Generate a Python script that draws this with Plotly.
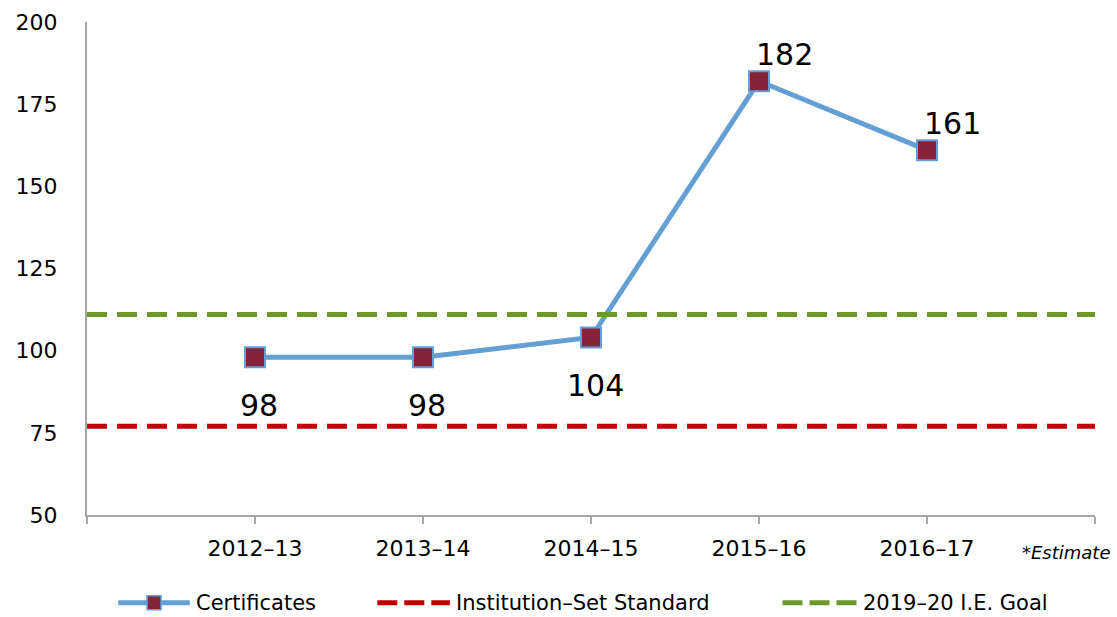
import plotly.graph_objects as go

# --- data ---
years = ["2012–13", "2013–14", "2014–15", "2015–16", "2016–17"]
certificates = [98, 98, 104, 182, 161]
institution_standard = 77
ie_goal = 111
y_ticks = [50, 75, 100, 125, 150, 175, 200]
series_names = ["Certificates", "Institution–Set Standard", "2019–20 I.E. Goal"]

font_family = "DejaVu Sans"
blue, maroon, red, green = "#649FD3", "#862339", "#C00000", "#6B9A2B"
x_pos = list(range(len(years)))
x_span = [-1, len(years)]

fig = go.Figure()

fig.add_trace(go.Scatter(
    x=x_pos, y=certificates, name=series_names[0],
    mode="lines+markers",
    line=dict(color=blue, width=5),
    marker=dict(symbol="square", size=20, color=maroon,
                line=dict(color=blue, width=2)),
))
fig.add_trace(go.Scatter(
    x=x_span, y=[institution_standard] * 2, name=series_names[1],
    mode="lines", line=dict(color=red, width=5, dash="20px,10px"),
))
fig.add_trace(go.Scatter(
    x=x_span, y=[ie_goal] * 2, name=series_names[2],
    mode="lines", line=dict(color=green, width=5, dash="20px,10px"),
))

# data labels: first three below the point, last two above-right
for i, v in enumerate(certificates):
    above = i >= 3
    fig.add_annotation(
        x=i, y=v, text=str(v), showarrow=False,
        xshift=25 if above else 4, yshift=27 if above else -48,
        font=dict(family=font_family, size=30, color="#000000"),
    )

fig.add_annotation(
    x=1.018, xref="paper", y=-0.077, yref="paper", text="<i>*Estimate</i>",
    showarrow=False, xanchor="right", yanchor="middle",
    font=dict(family=font_family, size=18, color="#000000"),
)

# hand-drawn legend (Excel style: long symbols, uneven spacing)
leg_y = -0.178
leg_items = [  # (line start, line end, colour, dash)
    (0.031, 0.102, blue, "solid"),
    (0.288, 0.360, red, "20px,7px"),
    (0.690, 0.764, green, "20px,7px"),
]
for (x0, x1, col, dash), name in zip(leg_items, series_names):
    fig.add_shape(type="line", xref="paper", yref="paper", x0=x0, x1=x1, y0=leg_y, y1=leg_y,
                  line=dict(color=col, width=5, dash=dash))
    fig.add_annotation(x=x1 + 0.004, xref="paper", y=leg_y, yref="paper", text=name,
                       showarrow=False, xanchor="left", yanchor="middle",
                       font=dict(family=font_family, size=21, color="#000000"))
mid = (leg_items[0][0] + leg_items[0][1]) / 2
fig.add_shape(type="rect", xref="paper", yref="paper", xsizemode="pixel", ysizemode="pixel",
              xanchor=mid, yanchor=leg_y, x0=-7, x1=7, y0=-7, y1=7,
              fillcolor=maroon, line=dict(color=blue, width=1.5))

fig.update_layout(
    width=1117, height=617,
    margin=dict(l=87, r=22, t=22, b=102),
    paper_bgcolor="white", plot_bgcolor="white",
    font=dict(family=font_family, size=22, color="#000000"),
    showlegend=False,
    xaxis=dict(
        range=x_span, tickmode="array", tickvals=list(range(-1, len(years) + 1)),
        ticktext=[""] + years + [""], automargin=False,
        showgrid=False, zeroline=False, showline=True, linecolor="#A6A6A6", linewidth=2,
        ticks="outside", ticklen=7, tickcolor="#A6A6A6", tickwidth=2,
        ticklabelstandoff=6, tickfont=dict(size=22),
    ),
    yaxis=dict(
        range=[50, 200], tickvals=y_ticks, showgrid=False, zeroline=False, automargin=False,
        showline=True, linecolor="#A6A6A6", linewidth=2, ticks="",
        ticklabelstandoff=23, tickfont=dict(size=22),
    ),
)

# drop the page's default body margin so the figure sits at the window's corner
fig.write_html("out.html", config={"displayModeBar": False},
               post_script="document.body.style.margin='0px';")
